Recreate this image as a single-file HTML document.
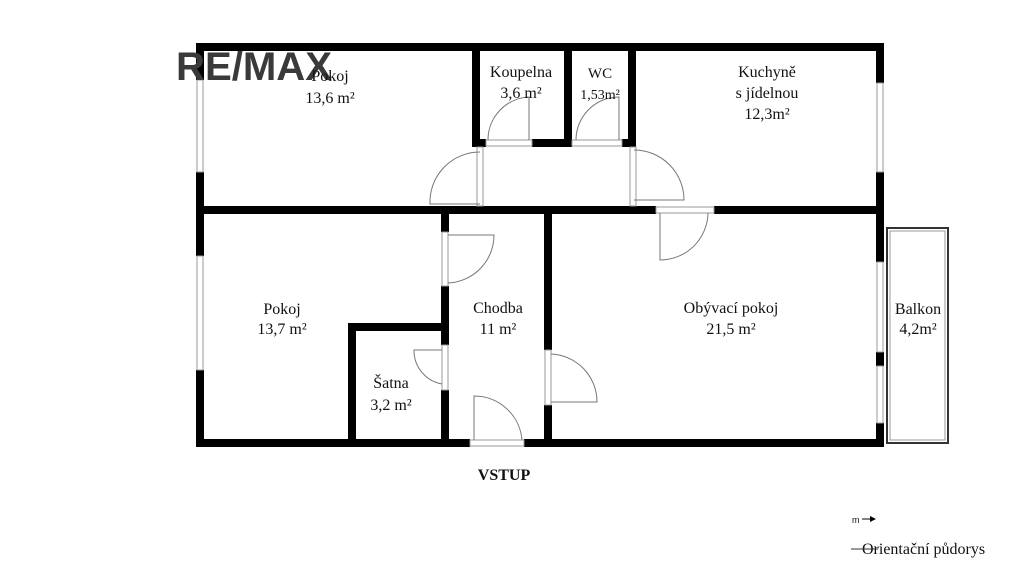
<!DOCTYPE html>
<html><head><meta charset="utf-8"><style>
html,body{margin:0;padding:0;background:#fff;width:1024px;height:576px;overflow:hidden}
svg{display:block}
text{font-family:"Liberation Serif",serif;fill:#111}
</style></head><body>
<svg width="1024" height="576" viewBox="0 0 1024 576">
<g fill="#000">
<rect x="196" y="43" width="688" height="8"/>
<rect x="196" y="43" width="8" height="37"/>
<rect x="196" y="172" width="8" height="84"/>
<rect x="196" y="370" width="8" height="77"/>
<rect x="876" y="43" width="8" height="40"/>
<rect x="876" y="172" width="8" height="90"/>
<rect x="876" y="352" width="8" height="14"/>
<rect x="876" y="423" width="8" height="24"/>
<rect x="196" y="206" width="460" height="8"/>
<rect x="714" y="206" width="162" height="8"/>
<rect x="196" y="439" width="274" height="8"/>
<rect x="524" y="439" width="360" height="8"/>
<rect x="472" y="43" width="8" height="104"/>
<rect x="564" y="43" width="8" height="104"/>
<rect x="628" y="43" width="8" height="104"/>
<rect x="472" y="139" width="14" height="8"/>
<rect x="532" y="139" width="40" height="8"/>
<rect x="622" y="139" width="14" height="8"/>
<rect x="441" y="214" width="8" height="18"/>
<rect x="441" y="286" width="8" height="59"/>
<rect x="441" y="390" width="8" height="53"/>
<rect x="348" y="323" width="101" height="8"/>
<rect x="348" y="323" width="8" height="120"/>
<rect x="544" y="214" width="8" height="136"/>
<rect x="544" y="405" width="8" height="38"/>
</g>
<g fill="none" stroke="#999" stroke-width="1">
<rect x="197" y="80" width="6" height="92"/>
<rect x="197" y="256" width="6" height="114"/>
<rect x="877" y="83" width="6" height="89"/>
<rect x="877" y="262" width="6" height="90"/>
<rect x="877" y="366" width="6" height="57"/>
<rect x="486" y="140" width="46" height="6"/>
<rect x="572" y="140" width="50" height="6"/>
<rect x="477" y="147" width="6" height="59"/>
<rect x="630" y="147" width="6" height="59"/>
<rect x="656" y="207" width="58" height="6"/>
<rect x="442" y="232" width="6" height="54"/>
<rect x="442" y="345" width="6" height="45"/>
<rect x="545" y="350" width="6" height="55"/>
<rect x="470" y="440" width="54" height="6"/>
<rect x="887" y="228" width="61" height="215" stroke="#333" stroke-width="2"/>
<rect x="890" y="231" width="55" height="209"/>
</g>
<g fill="none" stroke="#777" stroke-width="1">
<path d="M529 140 V97 A43 43 0 0 0 488 140"/>
<path d="M619 140 V97 A43 43 0 0 0 576 140"/>
<path d="M480 204 H430 A50 50 0 0 1 480 152"/>
<path d="M634 150 A50 50 0 0 1 684 200 H634"/>
<path d="M660 213 V260 A48 48 0 0 0 708 213"/>
<path d="M448 235 H494 A48 48 0 0 1 448 283"/>
<path d="M442 350 H414 A34 34 0 0 0 442 384"/>
<path d="M551 354 A48 48 0 0 1 597 402 H551"/>
<path d="M474 440 V396 A48 48 0 0 1 522 440"/>
</g>
<text x="176" y="80" font-size="40" textLength="156" lengthAdjust="spacingAndGlyphs" style="fill:#3a3a3a;font-family:'Liberation Sans',sans-serif;font-weight:bold">RE/MAX</text>
<g font-size="16" text-anchor="middle">
<text x="330" y="81">Pokoj</text>
<text x="330" y="103">13,6 m²</text>
<text x="521" y="77">Koupelna</text>
<text x="521" y="98">3,6 m²</text>
<text x="600" y="78" font-size="15">WC</text>
<text x="600" y="99" font-size="14">1,53m²</text>
<text x="767" y="77">Kuchyně</text>
<text x="767" y="98">s jídelnou</text>
<text x="767" y="119">12,3m²</text>
<text x="282" y="314">Pokoj</text>
<text x="282" y="334">13,7 m²</text>
<text x="498" y="313">Chodba</text>
<text x="498" y="334">11 m²</text>
<text x="731" y="313">Obývací pokoj</text>
<text x="731" y="334">21,5 m²</text>
<text x="918" y="314">Balkon</text>
<text x="918" y="334">4,2m²</text>
<text x="391" y="388">Šatna</text>
<text x="391" y="410">3,2 m²</text>
<text x="504" y="480" font-weight="bold">VSTUP</text>
</g>
<text x="852" y="523" font-size="9" style="font-family:'Liberation Sans',sans-serif">m</text>
<path d="M862 519 H874" stroke="#000" stroke-width="1"/>
<path d="M870 516 L876 519 L870 522 Z" fill="#000"/>
<text x="862" y="554" font-size="16">Orientační půdorys</text>
<path d="M851 549 H878" stroke="#333" stroke-width="1"/>
</svg>
</body></html>
